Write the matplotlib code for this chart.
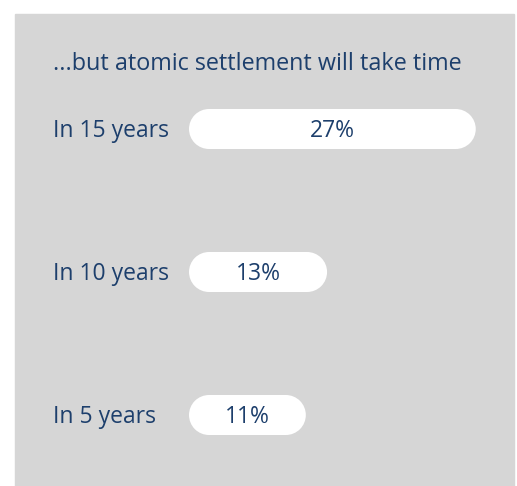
import matplotlib
matplotlib.use("Agg")
import matplotlib.pyplot as plt
from matplotlib.patches import Rectangle, Circle
from matplotlib.transforms import blended_transform_factory

# data
title = "...but atomic settlement will take time"
labels = ["In 5 years", "In 10 years", "In 15 years"]
values = [11, 13, 27]

NAVY = "#1d3f6c"
GRAY = "#d6d6d6"
FONT = ["Open Sans", "DejaVu Sans"]

W, H = 517, 486
fig = plt.figure(figsize=(W / 100, H / 100), dpi=100)
fig.patch.set_facecolor("white")

# grey panel
fig.patches.append(Rectangle((15 / W, 0), (514 - 15) / W, (486 - 14) / H,
                             transform=fig.transFigure, color=GRAY, zorder=-5))

# axes with the same pixel scale on x and y (units = percent)
px_per_pct = 10.62
x0_px = 189
ax = fig.add_axes([x0_px / W, 0, (514 - x0_px) / W, 1])
ax.set_xlim(0, (514 - x0_px) / px_per_pct)
row_gap = 143 / px_per_pct
bar_h = 40 / px_per_pct
rows = [i * row_gap for i in range(len(labels))]
y_bottom = -(H - 415) / px_per_pct
ax.set_ylim(y_bottom, y_bottom + H / px_per_pct)
ax.axis("off")

# small nudge so the text sits optically centred on the bars
dy = -2 / px_per_pct

# pill shaped bars: rectangle with a half circle at each end
r = bar_h / 2
for y, v in zip(rows, values):
    ax.add_patch(Rectangle((r, y - r), v - 2 * r, bar_h, fc="white", ec="none"))
    ax.add_patch(Circle((r, y), r, fc="white", ec="none"))
    ax.add_patch(Circle((v - r, y), r, fc="white", ec="none"))
    ax.text(v / 2, y + dy, f"{v}%", ha="center", va="center", color=NAVY,
            fontsize=16.5, family=FONT)

trans = blended_transform_factory(fig.transFigure, ax.transData)
for y, lab in zip(rows, labels):
    ax.text(53 / W, y + dy, lab, transform=trans, ha="left", va="center",
            color=NAVY, fontsize=16.5, family=FONT)

fig.text(53 / W, 1 - 64 / H, title, ha="left", va="center", color=NAVY,
         fontsize=16.8, family=FONT)

fig.savefig("out.png", dpi=100)
